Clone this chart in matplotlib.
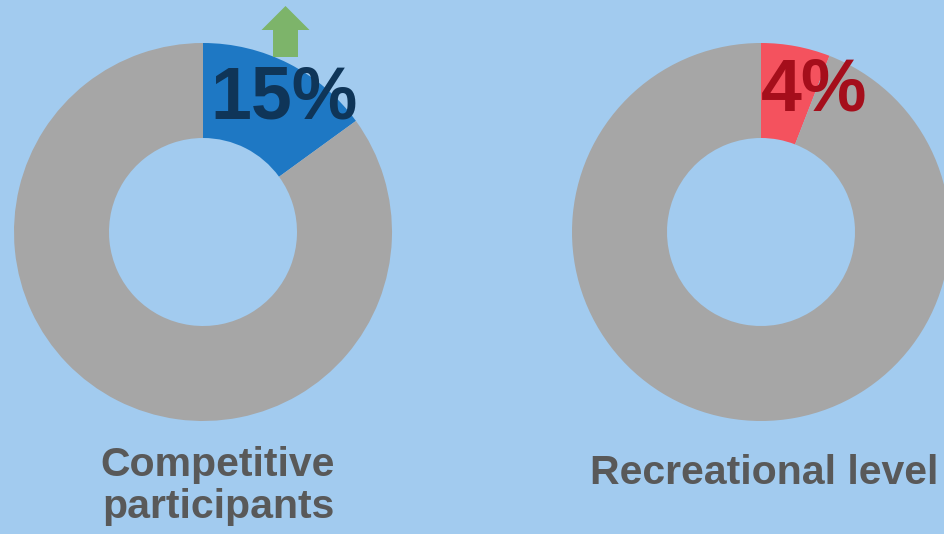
import matplotlib
matplotlib.use("Agg")
import matplotlib.pyplot as plt
from matplotlib.patches import FancyArrow

# Data
categories = ["Competitive\nparticipants", "Recreational level"]
shares = [15, 5.9]          # wedge share (%) as drawn
labels = ["15%", "4%"]
highlight_colors = ["#1E78C4", "#F4525E"]
label_colors = ["#0F3558", "#A50E1B"]

BG = "#A2CBEF"
GREY = "#A6A6A6"

W, H = 945, 534
fig = plt.figure(figsize=(W / 100, H / 100), dpi=100, facecolor=BG)
ax = fig.add_axes([0, 0, 1, 1])
ax.set_facecolor(BG)

centers = [(203, H - 232), (761, H - 232)]
R, ring = 189, 95
label_pos = [(284, H - 118), (814.5, H - 110)]
cat_pos = [(218, H - 518), (764, H - 484)]

font = ["Liberation Sans", "DejaVu Sans"]

for i in range(2):
    ax.pie([shares[i], 100 - shares[i]], colors=[highlight_colors[i], GREY],
           center=centers[i], radius=R, startangle=90, counterclock=False,
           wedgeprops=dict(width=ring, linewidth=0))
    ax.text(*label_pos[i], labels[i], ha="center", va="baseline",
            fontsize=53, fontweight="bold", color=label_colors[i], family=font)
    ax.text(*cat_pos[i], categories[i], ha="center", va="baseline",
            fontsize=29.5, fontweight="bold", color="#595959", family=font,
            linespacing=1.12, multialignment="center")

# green up arrow
ax.add_patch(FancyArrow(285.5, H - 57, 0, 51, width=25, head_width=48,
                        head_length=24, length_includes_head=True,
                        color="#7DB46A", linewidth=0))

ax.set_xlim(0, W)
ax.set_ylim(0, H)
ax.set_aspect("equal")
ax.axis("off")

fig.savefig("out.png", dpi=100, facecolor=BG)
